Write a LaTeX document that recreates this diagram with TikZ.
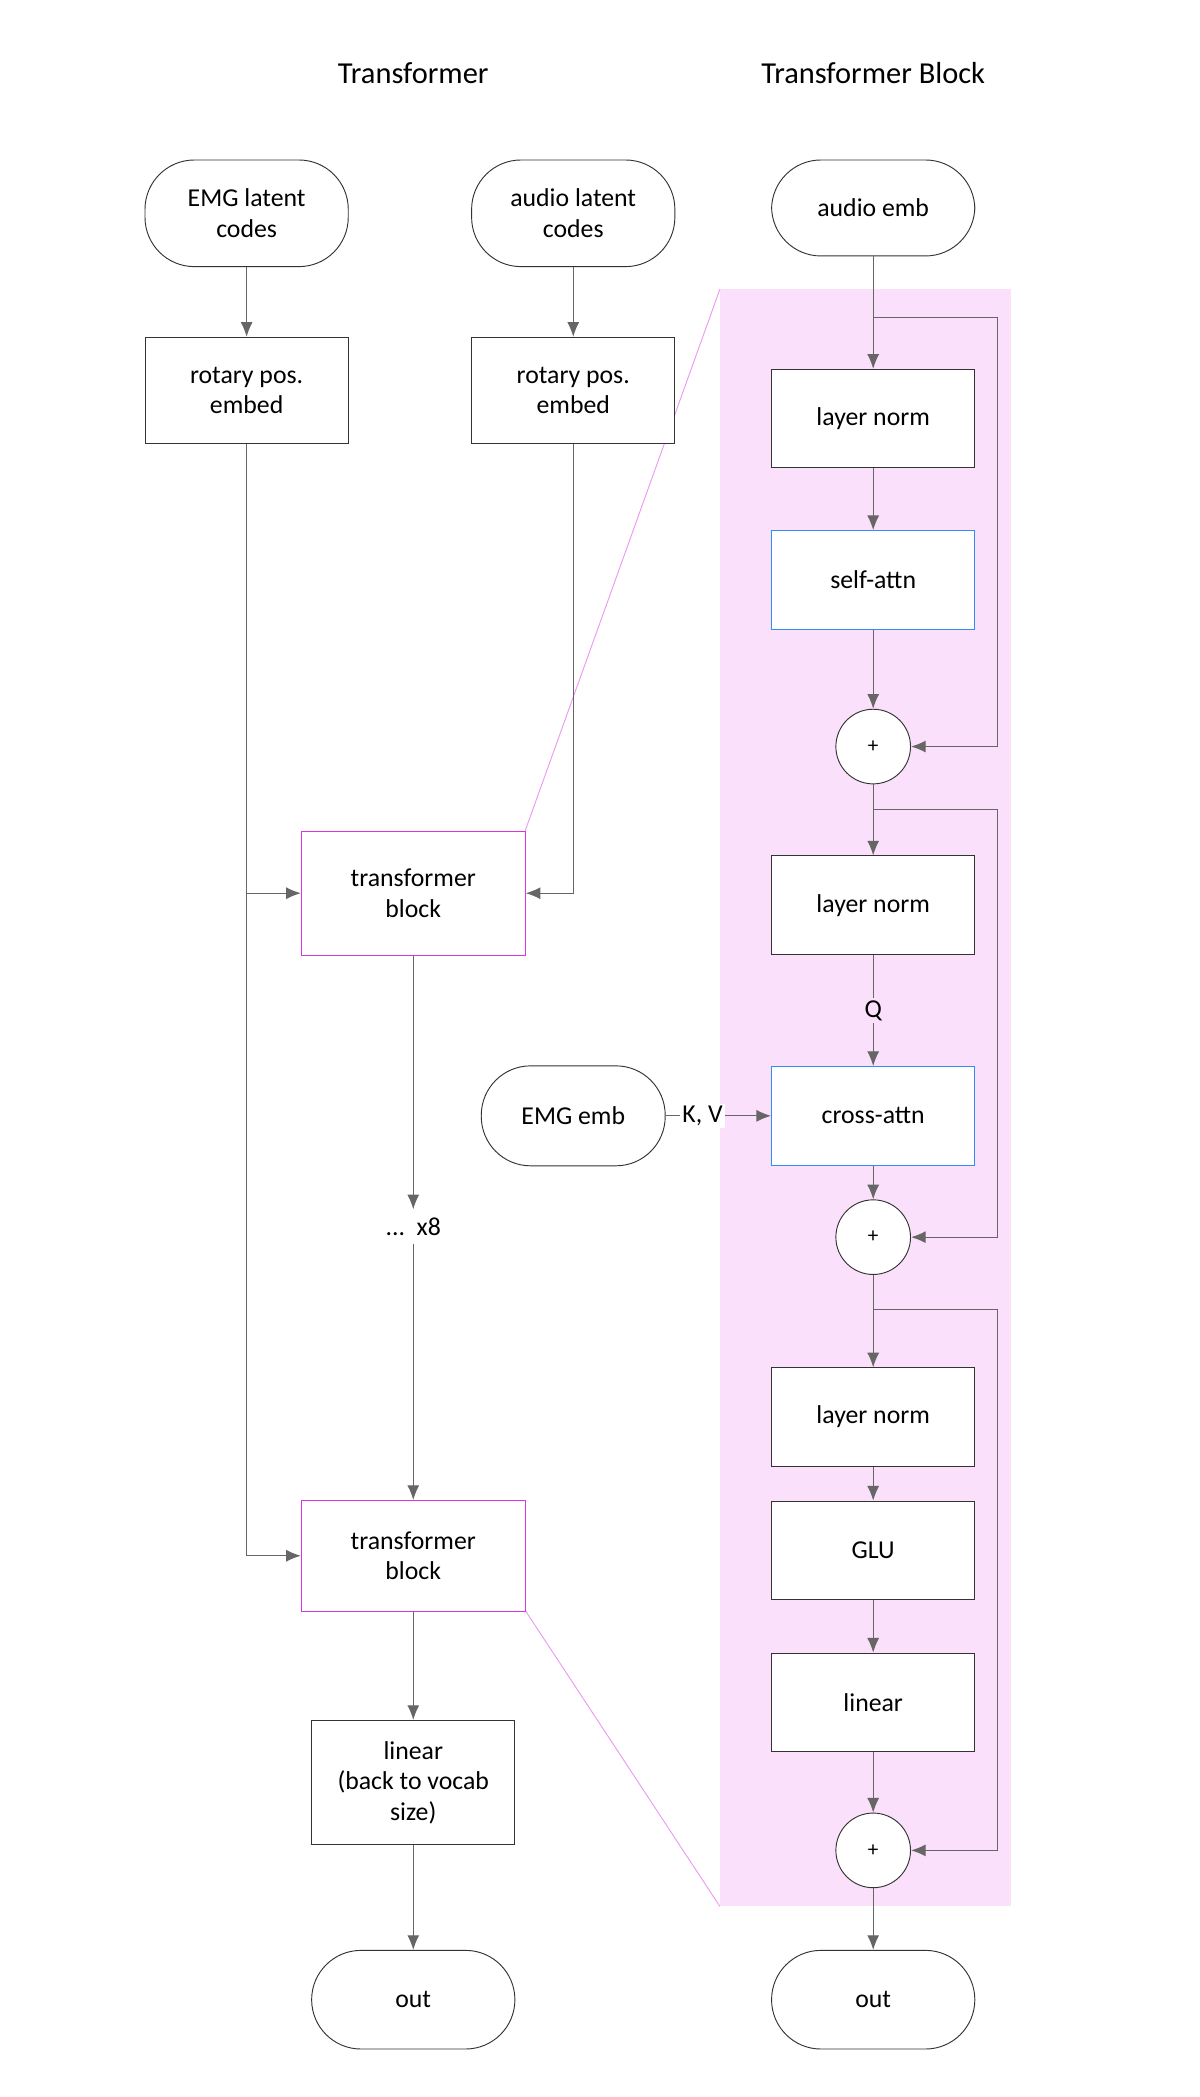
\documentclass[tikz,border=0pt]{standalone}
\usepackage{fontspec}
\setmainfont{Carlito}
\usetikzlibrary{arrows.meta,positioning,calc}
\definecolor{blockpink}{rgb}{0.98,0.88,0.98}
\definecolor{blockmag}{rgb}{0.85,0.2,0.9}
\definecolor{attnblue}{rgb}{0.2,0.55,0.95}
\tikzset{
  box/.style={draw=black!80,fill=white,rectangle,minimum width=3.05cm,minimum height=1.48cm,align=center,font=\fontsize{11}{13}\selectfont},
  term/.style={box,rounded corners=0.74cm},
  tblock/.style={box,draw=blockmag,minimum width=3.36cm,minimum height=1.8cm},
  attn/.style={box,draw=attnblue},
  plus/.style={draw=black!80,fill=white,circle,minimum size=1.12cm,inner sep=0pt,font=\fontsize{9}{11}\selectfont},
  conn/.style={draw=black!60,line width=0.5pt},
  arr/.style={conn,-{Latex[length=2.2mm,width=1.8mm]}},
}
\begin{document}
\begin{tikzpicture}[x=0.02cm,y=-0.02cm]
 		\useasboundingbox (0,0) rectangle (900,1573);
 		\fill[blockpink] (540,217) rectangle (758,1430);
 		\draw[blockmag!50,line width=0.4pt] (394,623) -- (540,217);
 		\draw[blockmag!50,line width=0.4pt] (394,1208) -- (540,1430);
 		\node[font=\fontsize{13}{15}\selectfont] (tl) at (310,55) {Transformer};
 		\node[font=\fontsize{13}{15}\selectfont] (tr) at (655,55) {Transformer Block};
 		% left: transformer
 		\node[term,minimum height=1.6cm] (emgc) at (185,160) {EMG latent\\codes};
 		\node[term,minimum height=1.6cm] (audc) at (430,160) {audio latent\\codes};
 		\node[box,minimum height=1.6cm] (rot1) at (185,293) {rotary pos.\\embed};
 		\node[box,minimum height=1.6cm] (rot2) at (430,293) {rotary pos.\\embed};
 		\node[tblock,minimum height=1.86cm] (tb1) at (310,670) {transformer\\block};
 		\node[font=\fontsize{11}{13}\selectfont] (dots) at (310,920) {...\ \ x8};
 		\node[tblock,minimum height=1.66cm] (tb2) at (310,1167) {transformer\\block};
 		\node[box,minimum height=1.86cm] (lin) at (310,1337) {linear\\(back to vocab\\size)};
 		\node[term] (outl) at (310,1500) {out};
 		\draw[arr] (emgc) -- (rot1);
 		\draw[arr] (audc) -- (rot2);
 		\draw[conn] (rot1.south) -- (185,1167) coordinate (c2);
 		\draw[arr] (185,670) -- (tb1.west);
 		\draw[arr] (c2) -- (tb2.west);
 		\draw[arr] (rot2.south) |- (tb1.east);
 		\draw[arr] (tb1) -- (dots.north);
 		\draw[arr] (dots.south) -- (tb2);
 		\draw[arr] (tb2) -- (lin);
 		\draw[arr] (lin) -- (outl);
 		% right: transformer block
 		\node[term,minimum height=1.44cm] (aemb) at (655,156) {audio emb};
 		\node[box] (ln1) at (655,314) {layer norm};
 		\node[attn] (sa) at (655,435) {self-attn};
 		\node[plus] (p1) at (655,560) {+};
 		\node[box] (ln2) at (655,679) {layer norm};
 		\node[attn] (ca) at (655,837) {cross-attn};
 		\node[term,minimum width=2.76cm,minimum height=1.5cm] (eemb) at (430,837) {EMG emb};
 		\node[plus] (p2) at (655,928) {+};
 		\node[box] (ln3) at (655,1063) {layer norm};
 		\node[box] (glu) at (655,1163) {GLU};
 		\node[box] (lin2) at (655,1277) {linear};
 		\node[plus] (p3) at (655,1388) {+};
 		\node[term] (outr) at (655,1500) {out};
 		\draw[arr] (aemb) -- (ln1);
 		\draw[arr] (ln1) -- (sa);
 		\draw[arr] (sa) -- (p1);
 		\draw[arr] (p1) -- (ln2);
 		\draw[arr] (ln2) -- node[fill=blockpink,inner sep=1pt,font=\fontsize{11}{13}\selectfont] {Q} (ca);
 		\draw[arr] (eemb) -- node[fill=white,inner sep=1pt,font=\fontsize{11}{13}\selectfont,pos=0.35] {K, V} (ca);
 		\draw[arr] (ca) -- (p2);
 		\draw[arr] (p2) -- (ln3);
 		\draw[arr] (ln3) -- (glu);
 		\draw[arr] (glu) -- (lin2);
 		\draw[arr] (lin2) -- (p3);
 		\draw[arr] (p3) -- (outr);
 		\draw[arr] (655,238) -| (748,560) -- (p1.east);
 		\draw[arr] (655,607) -| (748,928) -- (p2.east);
 		\draw[arr] (655,982) -| (748,1388) -- (p3.east);
\end{tikzpicture}
\end{document}
